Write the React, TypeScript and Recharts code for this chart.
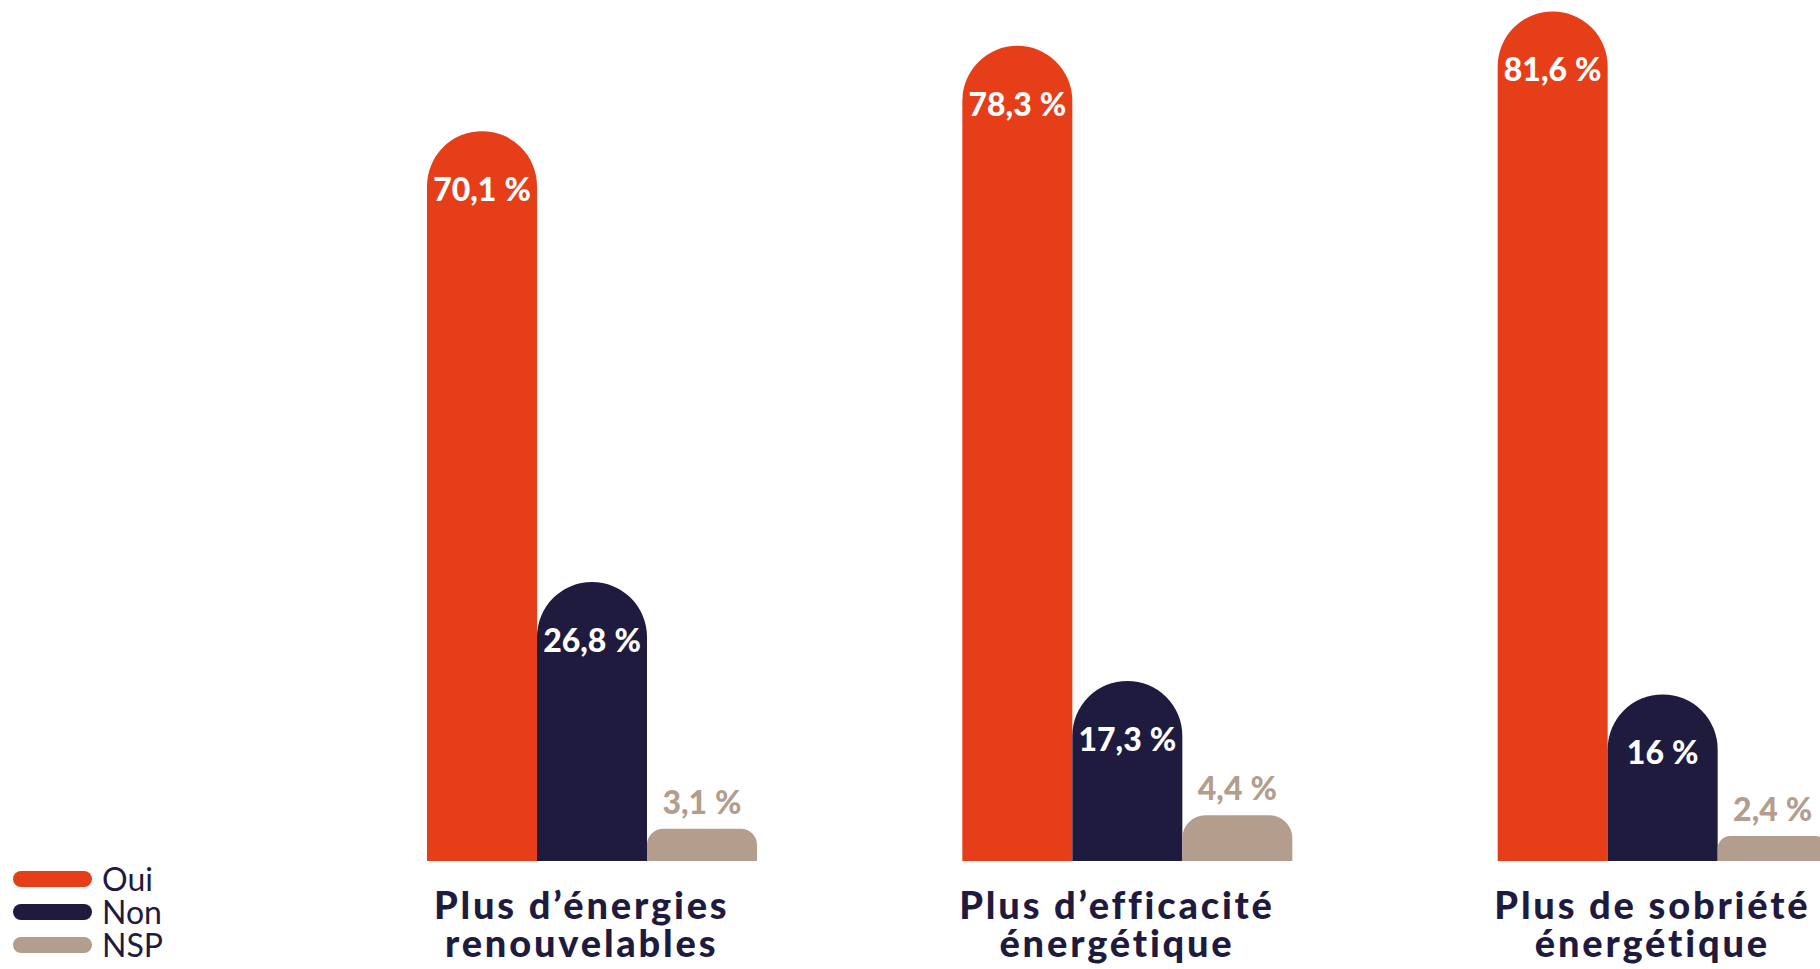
import React from 'react';
import { BarChart, Bar, XAxis, YAxis, LabelList } from 'recharts';

const categories = ['Plus d’énergies renouvelables', 'Plus d’efficacité énergétique', 'Plus de sobriété énergétique'];
const categoryLines = [
  ['Plus d’énergies', 'renouvelables'],
  ['Plus d’efficacité', 'énergétique'],
  ['Plus de sobriété', 'énergétique'],
];
const ouiValues = [70.1, 78.3, 81.6];
const nonValues = [26.8, 17.3, 16];
const nspValues = [3.1, 4.4, 2.4];

const series = [
  { key: 'oui', name: 'Oui', color: '#E63E18', labelInside: true },
  { key: 'non', name: 'Non', color: '#1F1B3F', labelInside: true },
  { key: 'nsp', name: 'NSP', color: '#B39E8E', labelInside: false },
];

const data = categories.map((c, i) => ({
  category: c,
  oui: ouiValues[i],
  non: nonValues[i],
  nsp: nspValues[i],
}));

const NAVY = '#1F1B3F';
const FONT = 'Lato, "Open Sans", sans-serif';

const fmt = (v: number) => String(v).replace('.', ',') + '\u202F%';

const CategoryTick = (props: any) => {
  const { x, y, payload } = props;
  const lines = categoryLines[payload.index] ?? [payload.value];
  return (
    <g transform={`translate(${x - 10},${y})`}>
      {lines.map((l: string, i: number) => (
        <text
          key={i}
          x={0}
          y={50 + i * 38}
          textAnchor="middle"
          fill={NAVY}
          fontFamily={FONT}
          fontWeight={900}
          fontSize={38}
          letterSpacing={2.8}
        >
          {l}
        </text>
      ))}
    </g>
  );
};

const makeLabel = (inside: boolean, color: string) => (props: any) => {
  const { x, y, width, value } = props;
  const cx = x + width / 2;
  const ty = inside ? y + 70 : y - 15;
  return (
    <text
      x={cx}
      y={ty}
      textAnchor="middle"
      fill={inside ? '#ffffff' : color}
      fontFamily={FONT}
      fontWeight={900}
      fontSize={32}
    >
      {fmt(value)}
    </text>
  );
};

export default function App() {
  return (
    <div style={{ position: 'absolute', left: 0, top: 0, width: 1820, height: 969, overflow: 'hidden', background: '#fff' }}>
      <BarChart
        width={1930}
        height={969}
        data={data}
        margin={{ top: 0, right: 0, left: 324, bottom: 0 }}
        barSize={110}
        barGap={0}
      >
        <XAxis
          dataKey="category"
          height={108}
          axisLine={false}
          tickLine={false}
          interval={0}
          tick={<CategoryTick />}
        />
        <YAxis hide domain={[0, 82.7]} />
        {series.map((s) => (
          <Bar
            key={s.key}
            dataKey={s.key}
            name={s.name}
            fill={s.color}
            radius={[55, 55, 0, 0]}
            isAnimationActive={false}
          >
            <LabelList dataKey={s.key} content={makeLabel(s.labelInside, s.color)} />
          </Bar>
        ))}
      </BarChart>
      <div style={{ position: 'absolute', left: 13, top: 862, fontFamily: FONT }}>
        {series.map((s) => (
          <div key={s.key} style={{ display: 'flex', alignItems: 'center', height: 33 }}>
            <div style={{ width: 79, height: 16, borderRadius: 8, background: s.color }} />
            <span style={{ marginLeft: 10, fontSize: 32, color: NAVY, lineHeight: '33px' }}>{s.name}</span>
          </div>
        ))}
      </div>
    </div>
  );
}
